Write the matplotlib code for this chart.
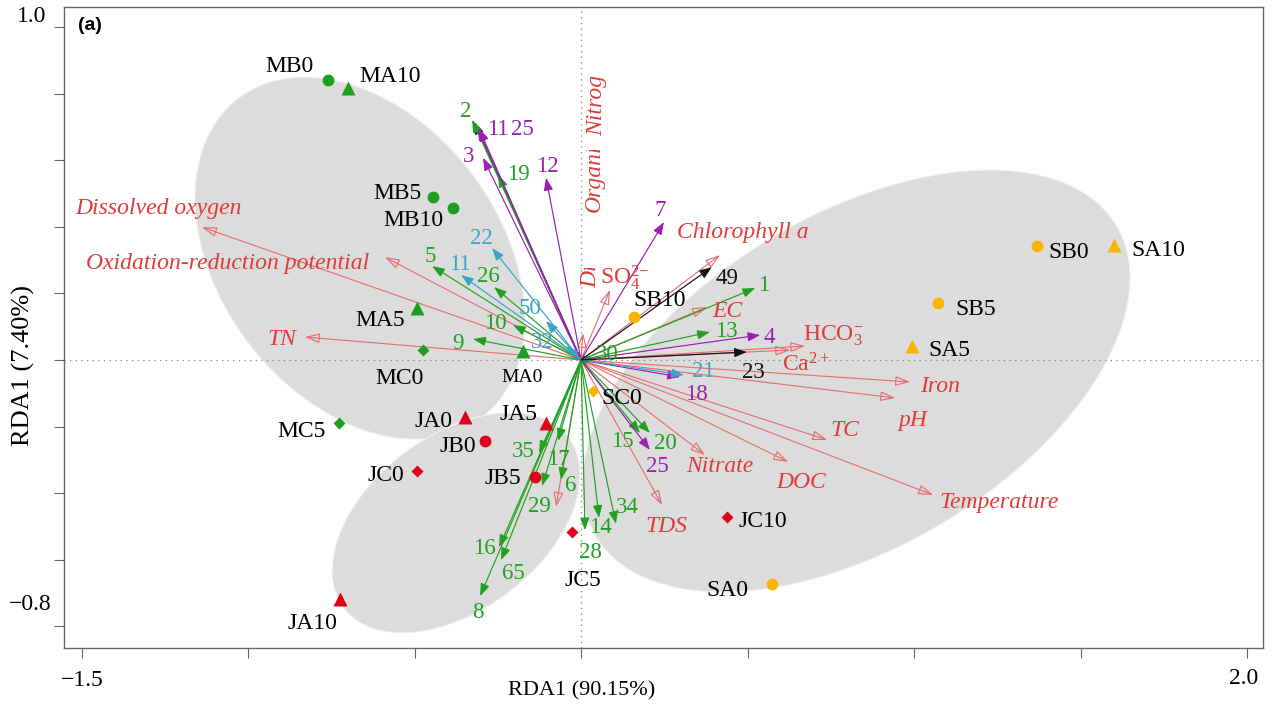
import matplotlib
matplotlib.use("Agg")
import matplotlib.pyplot as plt
from matplotlib.patches import Ellipse, Rectangle

plt.rcParams["font.family"] = ["Liberation Serif", "DejaVu Serif"]
plt.rcParams["mathtext.fontset"] = "custom"
plt.rcParams["mathtext.rm"] = "Liberation Serif"
plt.rcParams["mathtext.it"] = "Liberation Serif:italic"

# ---------------- data ----------------
# sampling sites (RDA site scores)
site_names = ["MB0", "MA10", "MB5", "MB10", "MA5", "MC0", "MA0", "MC5",
              "JA0", "JA5", "JB0", "JC0", "JB5", "JA10", "JC5", "JC10",
              "SA0", "SB10", "SC0", "SB0", "SA10", "SB5", "SA5"]
site_x = [-0.760, -0.700, -0.444, -0.384, -0.492, -0.474, -0.174, -0.727,
          -0.348, -0.105, -0.288, -0.492, -0.138, -0.724, -0.027, 0.438,
          0.574, 0.159, 0.036, 1.369, 1.601, 1.072, 0.994]
site_y = [0.841, 0.817, 0.489, 0.456, 0.156, 0.030, 0.027, -0.189,
          -0.171, -0.189, -0.243, -0.333, -0.351, -0.718, -0.517, -0.471,
          -0.673, 0.129, -0.093, 0.342, 0.345, 0.171, 0.042]
site_shape = ["B", "A", "B", "B", "A", "C", "A", "C",
              "A", "A", "B", "C", "B", "A", "C", "C",
              "B", "B", "C", "B", "A", "B", "A"]

# species scores
species_labels = ["2", "19", "5", "26", "10", "9", "30", "1", "13", "15", "20",
                  "35", "17", "6", "29", "16", "65", "8", "14", "28", "34",
                  "11", "25", "3", "12", "7", "4", "18", "25",
                  "22", "11", "50", "32", "21",
                  "", "49", "23"]
species_x = [-0.327, -0.249, -0.447, -0.261, -0.204, -0.324, 0.045, 0.523, 0.387, 0.177, 0.207,
             -0.126, -0.069, -0.060, -0.117, -0.246, -0.240, -0.303, 0.054, 0.012, 0.105,
             -0.309, -0.306, -0.294, -0.105, 0.249, 0.538, 0.297, 0.207,
             -0.267, -0.360, -0.105, -0.045, 0.309,
             -0.321, 0.393, 0.498]
species_y = [0.721, 0.556, 0.282, 0.219, 0.105, 0.063, 0.003, 0.216, 0.084, -0.219, -0.219,
             -0.279, -0.243, -0.360, -0.378, -0.562, -0.601, -0.709, -0.474, -0.511, -0.492,
             0.697, 0.694, 0.607, 0.547, 0.414, 0.075, -0.051, -0.270,
             0.336, 0.255, 0.117, 0.042, -0.045,
             0.715, 0.279, 0.024]
species_group = ["g"] * 21 + ["p"] * 8 + ["b"] * 5 + ["k"] * 3

# environmental variables (biplot scores)
env_names = ["Dissolved oxygen", "Oxidation-reduction potential", "TN",
             r"SO$_4^{2\mathrm{-}}$", "", "Chlorophyll a", "EC",
             r"HCO$_3^{\mathrm{-}}$", r"Ca$^{2+}$", "Iron", "pH", "TC", "DOC",
             "Temperature", "Nitrate", "TDS", ""]
env_x = [-1.138, -0.589, -0.829, 0.087, 0.006, 0.417, 0.378, 0.673, 0.628,
         0.988, 0.943, 0.739, 0.622, 1.057, 0.372, 0.243, -0.075]
env_y = [0.399, 0.309, 0.069, 0.210, 0.081, 0.315, 0.159, 0.042, 0.030,
         -0.066, -0.114, -0.240, -0.306, -0.405, -0.285, -0.435, -0.441]

# group ellipses: centre x, centre y, width, height, angle
ellipse_cx = [-0.664, -0.375, 0.826]
ellipse_cy = [0.306, -0.489, -0.063]
ellipse_w = [1.206, 0.847, 1.821]
ellipse_h = [0.842, 0.523, 0.999]
ellipse_ang = [-52.8, 37.3, 30.8]

# ---------------- styling ----------------
site_colors = {"M": "#1E9E1E", "J": "#E0001B", "S": "#F7B500"}
site_markers = {"A": ("^", 9.5), "B": ("o", 8.5), "C": ("D", 6.5)}
species_colors = {"g": "#22A022", "p": "#9A1FB2", "b": "#3BA3C8", "k": "#111111"}
env_line = "#E66A6A"
env_text = "#E23A3A"

# label offsets in pixels (right, up)
site_off = {"MB0": (-38, 13), "MA10": (42, 11), "MB5": (-36, 4), "MB10": (-40, -12),
            "MA5": (-37, -12), "MC0": (-24, -28), "MA0": (-1, -26), "MC5": (-37, -9),
            "JA0": (-32, -5), "JA5": (-28, 8), "JB0": (-27, -6), "JC0": (-31, -5),
            "JB5": (-32, -2), "JA10": (-27, -24), "JC5": (11, -48), "JC10": (36, -5),
            "SA0": (-45, -6), "SB10": (26, 17), "SC0": (29, -8), "SB0": (32, -6),
            "SA10": (44, -5), "SB5": (38, -6), "SA5": (37, -4)}
species_off = [(-6, 8), (20, 0), (-2, 10), (-6, 11), (-18, 2), (-15, -4), (11, 5),
               (8, 3), (16, 1), (-18, -9), (15, -11), (-16, 1), (0, -19), (10, -6),
               (-3, -21), (-15, -1), (12, -13), (-2, -16), (1, -10), (5, -22), (11, 16),
               (20, -2), (43, -1), (-15, 1), (1, 11), (-4, 12), (9, -2), (17, -18), (7, -17),
               (-11, 10), (-1, 11), (-16, 13), (-24, 4), (19, 3),
               (0, 0), (15, -11), (7, -20)]
env_off = [(-44, 19, "center"), (-157, -6, "center"), (-23, -2, "center"),
           (-10, 13, "left"), (0, 0, "center"), (23, 23, "center"), (20, -4, "center"),
           (-2, 10, "left"), (-8, -15, "left"), (30, -5, "center"), (18, -23, "center"),
           (18, 9, "center"), (13, -21, "center"), (66, -8, "center"), (15, -12, "center"),
           (5, -22, "center"), (0, 0, "center")]
upright = {r"SO$_4^{2\mathrm{-}}$", r"HCO$_3^{\mathrm{-}}$", r"Ca$^{2+}$"}

# ---------------- figure ----------------
W, H = 1272, 710
fig = plt.figure(figsize=(W / 100, H / 100), dpi=100)
left_px, right_px, top_px, bot_px = 64, 1263, 7, 648
ax = fig.add_axes([left_px / W, 1 - bot_px / H, (right_px - left_px) / W, (bot_px - top_px) / H])
ax.set_xlim(-1.5526, 2.0480)
ax.set_ylim(-0.8649, 1.0601)

for cx, cy, w, h, a in zip(ellipse_cx, ellipse_cy, ellipse_w, ellipse_h, ellipse_ang):
    ax.add_patch(Ellipse((cx, cy), w, h, angle=a, facecolor="#DCDCDC",
                         edgecolor="#F2F2F2", lw=0.8, zorder=0))

ax.axhline(0, color="#808080", lw=0.9, ls=(0, (1, 3.5)), zorder=1)
ax.axvline(0, color="#808080", lw=0.9, ls=(0, (1, 3.5)), zorder=1)

# environmental vectors: open heads
for name, x, y, (dx, dy, ha) in zip(env_names, env_x, env_y, env_off):
    ax.annotate("", xy=(x, y), xytext=(0, 0),
                arrowprops=dict(arrowstyle="-|>,head_length=0.9,head_width=0.3",
                                mutation_scale=10, ec=env_line, fc="none", lw=0.8,
                                shrinkA=0, shrinkB=0), zorder=2)
    if name:
        ax.annotate(name, xy=(x, y), xytext=(dx, dy), textcoords="offset pixels",
                    ha=ha, va="center", color=env_text, fontsize=17,
                    fontstyle="normal" if name in upright else "italic", zorder=6)

# species vectors: filled heads
for lab, x, y, g, (dx, dy) in zip(species_labels, species_x, species_y,
                                   species_group, species_off):
    c = species_colors[g] if lab else "#333333"
    ax.annotate("", xy=(x, y), xytext=(0, 0),
                arrowprops=dict(arrowstyle="-|>,head_length=0.75,head_width=0.28",
                                mutation_scale=10, ec=c, fc=c, lw=0.85,
                                shrinkA=0, shrinkB=0), zorder=3 if lab else 2.5)
    if lab:
        ax.annotate(lab, xy=(x, y), xytext=(dx, dy), textcoords="offset pixels",
                    ha="center", va="center", color=c, fontsize=16.5, zorder=6)

# vertical variable names near the second axis, cut off at the top
def clipped_vtext(x, y, s, y_clip):
    t = ax.text(x, y, s, rotation=90, ha="center", va="bottom", color=env_text,
                fontsize=17, fontstyle="italic", zorder=6, clip_on=True)
    rect = Rectangle((x - 0.2, y - 0.2), 0.4, y_clip - y + 0.2, transform=ax.transData)
    t.set_clip_path(rect)

clipped_vtext(0.048, 0.672, "Nitrog", 0.880)
clipped_vtext(0.040, 0.444, "Organi", 0.631)
clipped_vtext(0.030, 0.216, "Dis", 0.276)

# sites
for name, x, y, shp in zip(site_names, site_x, site_y, site_shape):
    m, ms = site_markers[shp]
    ax.plot(x, y, marker=m, ms=ms, color=site_colors[name[0]], mec="none",
            ls="none", zorder=5)
    dx, dy = site_off[name]
    ax.annotate(name, xy=(x, y), xytext=(dx, dy), textcoords="offset pixels",
                ha="center", va="center", color="black",
                fontsize=14 if name == "MA0" else 17, zorder=6)

# frame and ticks
for s in ax.spines.values():
    s.set_color("#666666")
    s.set_linewidth(1.0)
ax.set_xticks([-1.5, -1.0, -0.5, 0.0, 0.5, 1.0, 1.5, 2.0])
ax.set_yticks([1.0, 0.8, 0.6, 0.4, 0.2, 0.0, -0.2, -0.4, -0.6, -0.8])
ax.tick_params(direction="out", length=7, width=0.8, color="#666666",
               labelbottom=False, labelleft=False)

fig.text(32 / W, 1 - 16 / H, "1.0", ha="center", va="center", fontsize=17)
fig.text(51 / W, 1 - 605 / H, "\u22120.8", ha="right", va="center", fontsize=17)
fig.text(82 / W, 1 - 681 / H, "\u22121.5", ha="center", va="center", fontsize=17)
fig.text(1244 / W, 1 - 679 / H, "2.0", ha="center", va="center", fontsize=17)
fig.text(582 / W, 1 - 691 / H, "RDA1 (90.15%)", ha="center", va="center", fontsize=16)
fig.text(23 / W, 1 - 366 / H, "RDA1 (7.40%)", ha="center", va="center",
         rotation=90, fontsize=19)
fig.text(90 / W, 1 - 25 / H, "(a)", ha="center", va="center", fontsize=14,
         fontweight="bold", family="Liberation Sans")

fig.savefig("out.png", dpi=100)
